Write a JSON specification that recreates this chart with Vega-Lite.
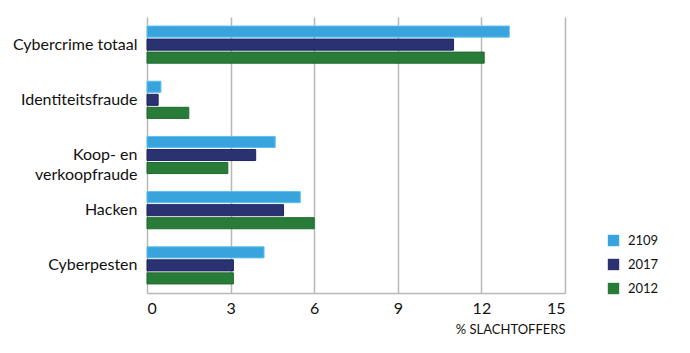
{
  "$schema": "https://vega.github.io/schema/vega-lite/v6.json",
  "width": 418,
  "height": 276,
  "autosize": "none",
  "padding": {"left": 147, "top": 17, "right": 125, "bottom": 60},
  "background": "white",
  "config": {
    "font": "Lato",
    "view": {"stroke": null},
    "axis": {"labelFont": "Lato", "titleFont": "Lato"}
  },
  "data": {
    "values": [
      {"cat": "Cybercrime totaal", "jaar": "2109", "pct": 13.0},
      {"cat": "Cybercrime totaal", "jaar": "2017", "pct": 11.0},
      {"cat": "Cybercrime totaal", "jaar": "2012", "pct": 12.1},
      {"cat": "Identiteitsfraude", "jaar": "2109", "pct": 0.5},
      {"cat": "Identiteitsfraude", "jaar": "2017", "pct": 0.4},
      {"cat": "Identiteitsfraude", "jaar": "2012", "pct": 1.5},
      {"cat": "Koop- en verkoopfraude", "jaar": "2109", "pct": 4.6},
      {"cat": "Koop- en verkoopfraude", "jaar": "2017", "pct": 3.9},
      {"cat": "Koop- en verkoopfraude", "jaar": "2012", "pct": 2.9},
      {"cat": "Hacken", "jaar": "2109", "pct": 5.5},
      {"cat": "Hacken", "jaar": "2017", "pct": 4.9},
      {"cat": "Hacken", "jaar": "2012", "pct": 6.0},
      {"cat": "Cyberpesten", "jaar": "2109", "pct": 4.2},
      {"cat": "Cyberpesten", "jaar": "2017", "pct": 3.1},
      {"cat": "Cyberpesten", "jaar": "2012", "pct": 3.1}
    ]
  },
  "mark": {"type": "bar", "strokeWidth": 1},
  "encoding": {
    "y": {
      "field": "cat",
      "type": "nominal",
      "sort": ["Cybercrime totaal", "Identiteitsfraude", "Koop- en verkoopfraude", "Hacken", "Cyberpesten"],
      "scale": {"paddingInner": 0.327, "paddingOuter": 0.164},
      "axis": {
        "title": null,
        "ticks": false,
        "domain": false,
        "labelFontSize": 16,
        "labelColor": "#111",
        "labelPadding": 10,
        "labelLineHeight": 20,
        "labelExpr": "datum.value == 'Koop- en verkoopfraude' ? ['Koop- en ', 'verkoopfraude'] : datum.value"
      }
    },
    "yOffset": {
      "field": "jaar",
      "type": "nominal",
      "sort": ["2109", "2017", "2012"],
      "scale": {"paddingInner": 0.15}
    },
    "x": {
      "field": "pct",
      "type": "quantitative",
      "scale": {"domain": [0, 15], "nice": false},
      "axis": {
        "values": [0, 3, 6, 9, 12, 15],
        "title": "% SLACHTOFFERS",
        "titleAnchor": "end",
        "titleAlign": "right",
        "titleFontSize": 13,
        "titleFontWeight": "normal",
        "titleColor": "#111",
        "titlePadding": 7,
        "labelFontSize": 16,
        "labelColor": "#111",
        "labelPadding": 7,
        "ticks": false,
        "grid": true,
        "gridColor": "#b8b8b8",
        "gridWidth": 1.5,
        "domainColor": "#b8b8b8",
        "domainWidth": 1.5
      }
    },
    "color": {
      "field": "jaar",
      "type": "nominal",
      "sort": ["2109", "2017", "2012"],
      "scale": {"domain": ["2109", "2017", "2012"], "range": ["#38a3dc", "#2a3272", "#287c38"]},
      "legend": {
        "title": null,
        "orient": "none",
        "legendX": 460,
        "legendY": 217,
        "symbolType": "square",
        "symbolSize": 130,
        "symbolStrokeWidth": 0,
        "symbolOpacity": 1,
        "labelFontSize": 13,
        "labelColor": "#111",
        "labelOffset": 8,
        "rowPadding": 10
      }
    },
    "stroke": {
      "field": "jaar",
      "type": "nominal",
      "scale": {"domain": ["2109", "2017", "2012"], "range": ["#5cc0f0", "#1f2760", "#1e6a2c"]},
      "legend": null
    }
  }
}
